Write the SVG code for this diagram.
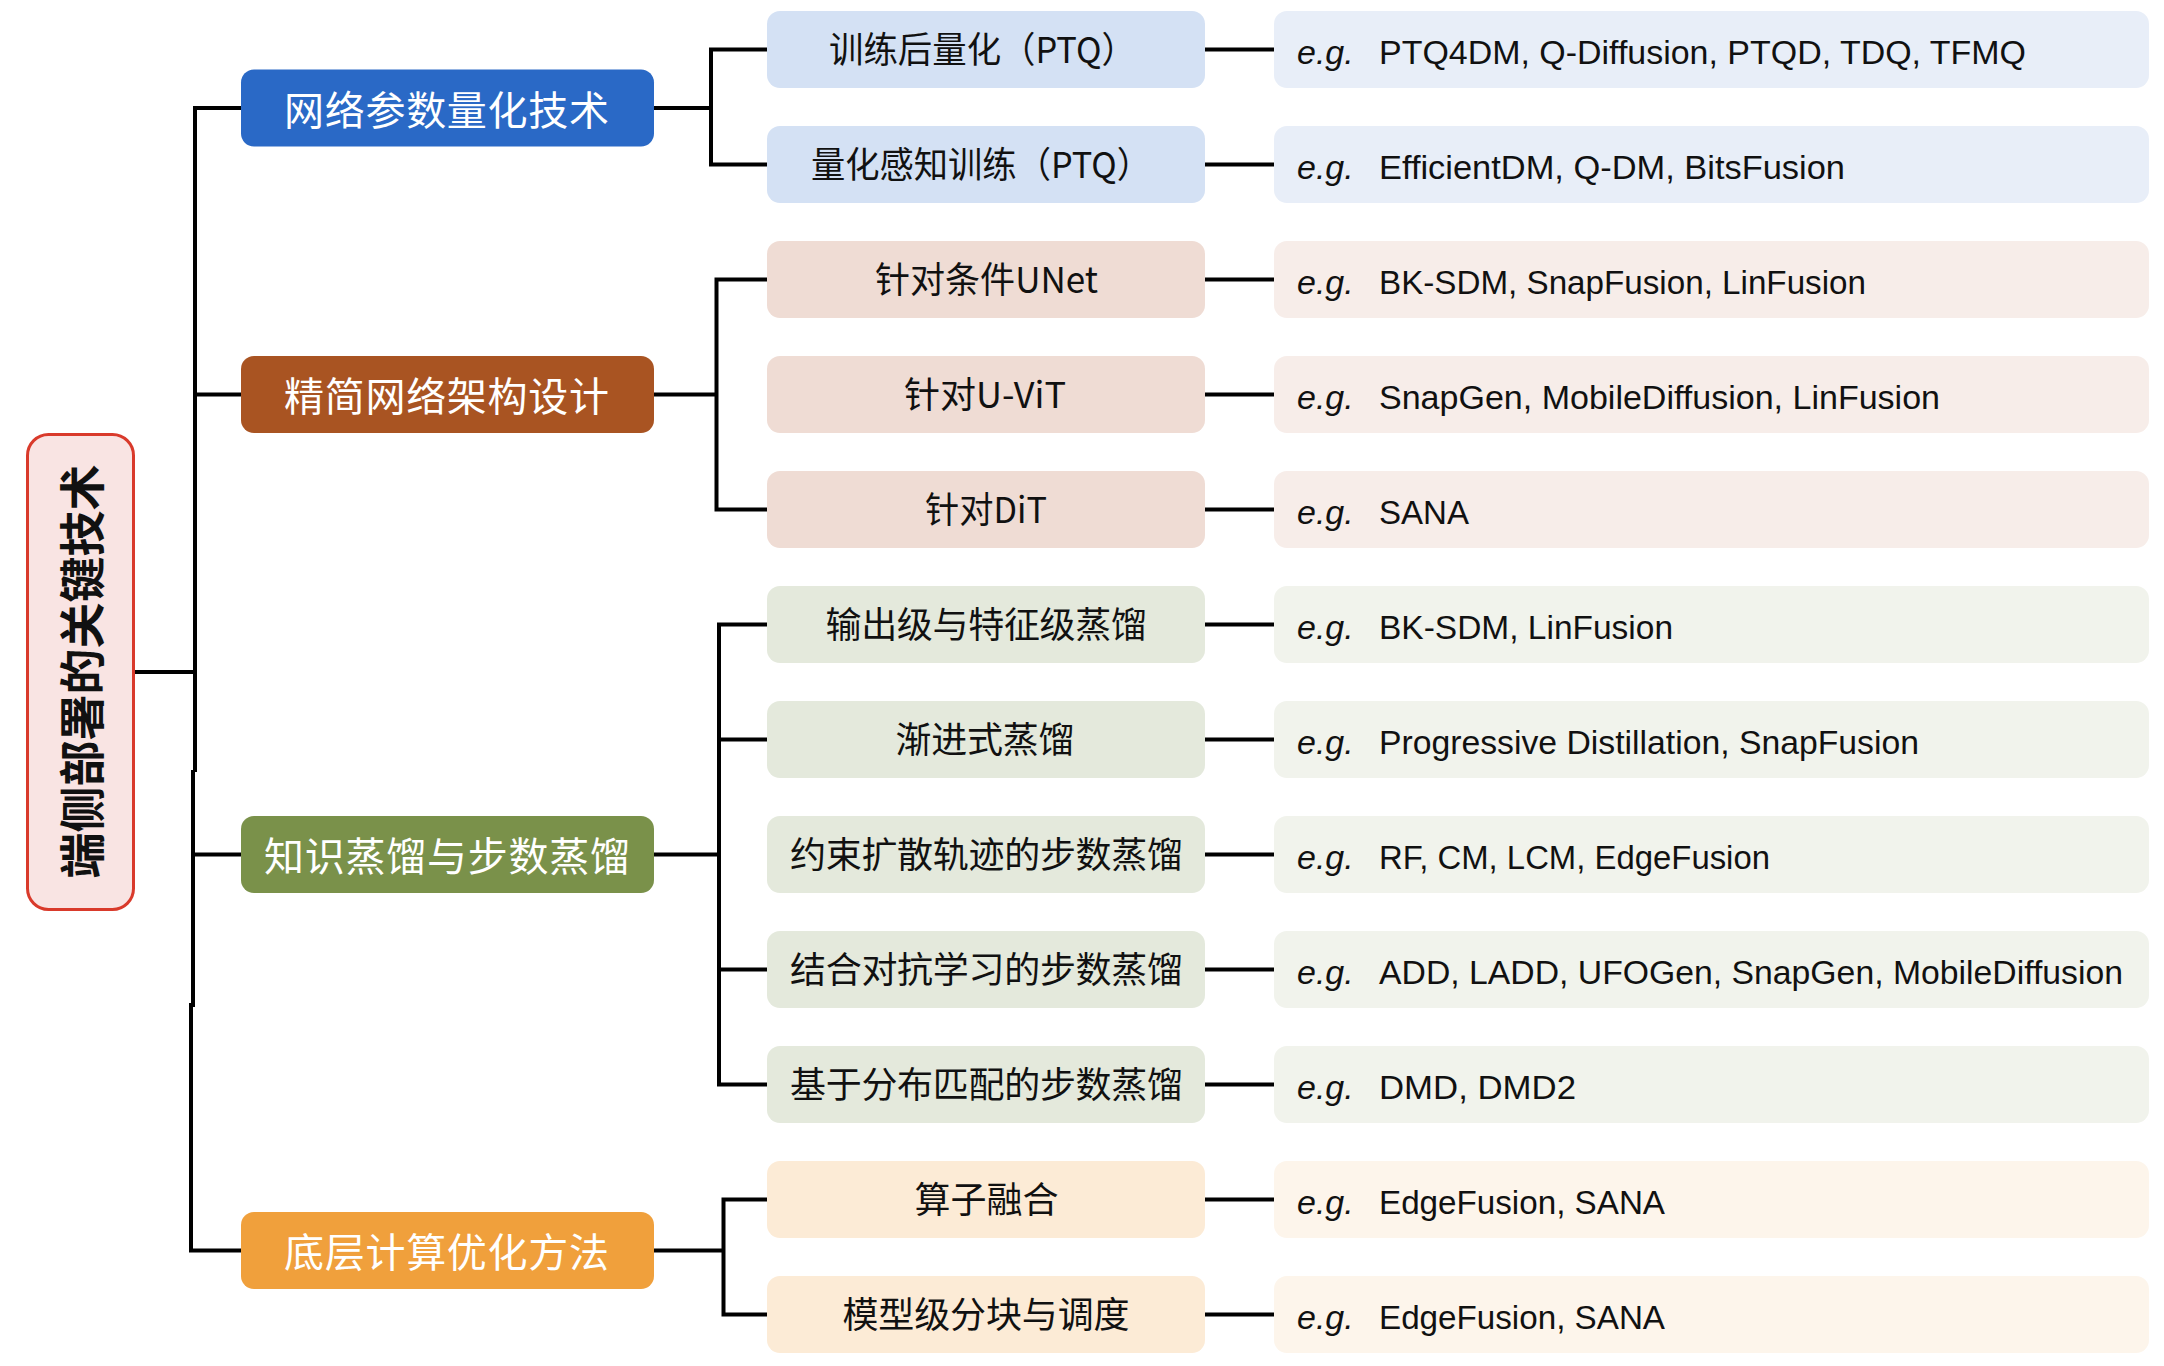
<svg xmlns="http://www.w3.org/2000/svg" width="2164" height="1366" viewBox="0 0 2164 1366">
<style>
.cjk{font-family:'Noto Sans CJK SC','Noto Sans',sans-serif}
.l1t{font-size:40px;fill:#ffffff}
.l2t{font-size:36px;fill:#111111}
.eg{font-family:'Liberation Sans',Arial,sans-serif;font-style:italic;font-size:34px;fill:#111111}
.l3t{font-family:'Liberation Sans',Arial,sans-serif;font-size:34px;fill:#111111}
.ln{fill:none;stroke:#000000;stroke-width:4}
.b1{fill:#2a69c6}.b2{fill:#d4e1f4}.b3{fill:#e8eef8}
.r1{fill:#a95422}.r2{fill:#efdcd4}.r3{fill:#f7ede9}
.g1{fill:#7a914a}.g2{fill:#e4e9dc}.g3{fill:#f1f3ec}
.o1{fill:#f0a03c}.o2{fill:#fcebd6}.o3{fill:#fdf5eb}
</style>
<rect width="2164" height="1366" fill="#ffffff"/>
<g id="connectors" class="ln">
<path d="M135 672 H195"/>
<path d="M241 108 H195 V772"/>
<path d="M195 394.5 H241"/>
<path d="M195 772 H193 V1005 H191 V1250.5 H241"/>
<path d="M193 854.5 H241"/>
<path d="M654 108 H711 M767 49.5 H711 V164.5 H767"/>
<path d="M654 394.5 H716.5 M767 279.5 H716.5 V509.5 H767"/>
<path d="M654 854.5 H719 M767 624.5 H719 V1084.5 H767 M719 739.5 H767 M719 969.5 H767"/>
<path d="M654 1250.5 H723.5 M767 1199.5 H723.5 V1314.5 H767"/>
<path d="M1205 49.5 H1274 M1205 164.5 H1274 M1205 279.5 H1274 M1205 394.5 H1274 M1205 509.5 H1274 M1205 624.5 H1274 M1205 739.5 H1274 M1205 854.5 H1274 M1205 969.5 H1274 M1205 1084.5 H1274 M1205 1199.5 H1274 M1205 1314.5 H1274"/>
</g>
<g id="root">
<rect x="27.5" y="434.5" width="106" height="475" rx="21" fill="#f9e4e3" stroke="#d93a2b" stroke-width="3"/>
<text class="cjk" transform="translate(98.5,671.5) rotate(-90)" text-anchor="middle" font-size="46" font-weight="bold" fill="#111111">端侧部署的关键技术</text>
</g>
<g id="n-quant">
<rect class="b1" x="241" y="69.5" width="413" height="77" rx="13"/>
<text class="cjk l1t" x="284" y="124.5" textLength="325" lengthAdjust="spacing">网络参数量化技术</text>
</g>
<g id="n-arch">
<rect class="r1" x="241" y="356" width="413" height="77" rx="13"/>
<text class="cjk l1t" x="284" y="411" textLength="325" lengthAdjust="spacing">精简网络架构设计</text>
</g>
<g id="n-distill">
<rect class="g1" x="241" y="816" width="413" height="77" rx="13"/>
<text class="cjk l1t" x="264" y="871" textLength="366" lengthAdjust="spacing">知识蒸馏与步数蒸馏</text>
</g>
<g id="n-compute">
<rect class="o1" x="241" y="1212" width="413" height="77" rx="13"/>
<text class="cjk l1t" x="284" y="1267" textLength="325" lengthAdjust="spacing">底层计算优化方法</text>
</g>
<g id="n-ptq">
<rect class="b2" x="767" y="11" width="438" height="77" rx="13"/>
<text class="cjk l2t" x="829" y="62.5" textLength="307" lengthAdjust="spacingAndGlyphs">训练后量化（PTQ）</text>
<rect class="b3" x="1274" y="11" width="875" height="77" rx="13"/>
<text class="eg" x="1297" y="63.5">e.g.</text>
<text class="l3t" x="1379" y="63.5" textLength="647" lengthAdjust="spacingAndGlyphs">PTQ4DM, Q-Diffusion, PTQD, TDQ, TFMQ</text>
</g>
<g id="n-qat">
<rect class="b2" x="767" y="126" width="438" height="77" rx="13"/>
<text class="cjk l2t" x="811" y="177.5" textLength="340" lengthAdjust="spacingAndGlyphs">量化感知训练（PTQ）</text>
<rect class="b3" x="1274" y="126" width="875" height="77" rx="13"/>
<text class="eg" x="1297" y="178.5">e.g.</text>
<text class="l3t" x="1379" y="178.5" textLength="466" lengthAdjust="spacingAndGlyphs">EfficientDM, Q-DM, BitsFusion</text>
</g>
<g id="n-unet">
<rect class="r2" x="767" y="241" width="438" height="77" rx="13"/>
<text class="cjk l2t" x="875" y="292.5" textLength="223" lengthAdjust="spacingAndGlyphs">针对条件UNet</text>
<rect class="r3" x="1274" y="241" width="875" height="77" rx="13"/>
<text class="eg" x="1297" y="293.5">e.g.</text>
<text class="l3t" x="1379" y="293.5" textLength="487" lengthAdjust="spacingAndGlyphs">BK-SDM, SnapFusion, LinFusion</text>
</g>
<g id="n-uvit">
<rect class="r2" x="767" y="356" width="438" height="77" rx="13"/>
<text class="cjk l2t" x="904" y="407.5" textLength="162" lengthAdjust="spacingAndGlyphs">针对U-ViT</text>
<rect class="r3" x="1274" y="356" width="875" height="77" rx="13"/>
<text class="eg" x="1297" y="408.5">e.g.</text>
<text class="l3t" x="1379" y="408.5" textLength="561" lengthAdjust="spacingAndGlyphs">SnapGen, MobileDiffusion, LinFusion</text>
</g>
<g id="n-dit">
<rect class="r2" x="767" y="471" width="438" height="77" rx="13"/>
<text class="cjk l2t" x="925" y="522.5" textLength="122" lengthAdjust="spacingAndGlyphs">针对DiT</text>
<rect class="r3" x="1274" y="471" width="875" height="77" rx="13"/>
<text class="eg" x="1297" y="523.5">e.g.</text>
<text class="l3t" x="1379" y="523.5" textLength="90" lengthAdjust="spacingAndGlyphs">SANA</text>
</g>
<g id="n-outfeat">
<rect class="g2" x="767" y="586" width="438" height="77" rx="13"/>
<text class="cjk l2t" x="825.5" y="637.5" textLength="321.5" lengthAdjust="spacing">输出级与特征级蒸馏</text>
<rect class="g3" x="1274" y="586" width="875" height="77" rx="13"/>
<text class="eg" x="1297" y="638.5">e.g.</text>
<text class="l3t" x="1379" y="638.5" textLength="294" lengthAdjust="spacingAndGlyphs">BK-SDM, LinFusion</text>
</g>
<g id="n-progressive">
<rect class="g2" x="767" y="701" width="438" height="77" rx="13"/>
<text class="cjk l2t" x="895.5" y="752.5" textLength="179" lengthAdjust="spacing">渐进式蒸馏</text>
<rect class="g3" x="1274" y="701" width="875" height="77" rx="13"/>
<text class="eg" x="1297" y="753.5">e.g.</text>
<text class="l3t" x="1379" y="753.5" textLength="540" lengthAdjust="spacingAndGlyphs">Progressive Distillation, SnapFusion</text>
</g>
<g id="n-trajectory">
<rect class="g2" x="767" y="816" width="438" height="77" rx="13"/>
<text class="cjk l2t" x="790" y="867.5" textLength="393" lengthAdjust="spacing">约束扩散轨迹的步数蒸馏</text>
<rect class="g3" x="1274" y="816" width="875" height="77" rx="13"/>
<text class="eg" x="1297" y="868.5">e.g.</text>
<text class="l3t" x="1379" y="868.5" textLength="391" lengthAdjust="spacingAndGlyphs">RF, CM, LCM, EdgeFusion</text>
</g>
<g id="n-adversarial">
<rect class="g2" x="767" y="931" width="438" height="77" rx="13"/>
<text class="cjk l2t" x="790" y="982.5" textLength="393" lengthAdjust="spacing">结合对抗学习的步数蒸馏</text>
<rect class="g3" x="1274" y="931" width="875" height="77" rx="13"/>
<text class="eg" x="1297" y="983.5">e.g.</text>
<text class="l3t" x="1379" y="983.5" textLength="744" lengthAdjust="spacingAndGlyphs">ADD, LADD, UFOGen, SnapGen, MobileDiffusion</text>
</g>
<g id="n-distmatch">
<rect class="g2" x="767" y="1046" width="438" height="77" rx="13"/>
<text class="cjk l2t" x="790" y="1097.5" textLength="393" lengthAdjust="spacing">基于分布匹配的步数蒸馏</text>
<rect class="g3" x="1274" y="1046" width="875" height="77" rx="13"/>
<text class="eg" x="1297" y="1098.5">e.g.</text>
<text class="l3t" x="1379" y="1098.5" textLength="197" lengthAdjust="spacingAndGlyphs">DMD, DMD2</text>
</g>
<g id="n-fusion">
<rect class="o2" x="767" y="1161" width="438" height="77" rx="13"/>
<text class="cjk l2t" x="914.5" y="1212.5" textLength="144" lengthAdjust="spacing">算子融合</text>
<rect class="o3" x="1274" y="1161" width="875" height="77" rx="13"/>
<text class="eg" x="1297" y="1213.5">e.g.</text>
<text class="l3t" x="1379" y="1213.5" textLength="286" lengthAdjust="spacingAndGlyphs">EdgeFusion, SANA</text>
</g>
<g id="n-partition">
<rect class="o2" x="767" y="1276" width="438" height="77" rx="13"/>
<text class="cjk l2t" x="842.5" y="1327.5" textLength="287" lengthAdjust="spacing">模型级分块与调度</text>
<rect class="o3" x="1274" y="1276" width="875" height="77" rx="13"/>
<text class="eg" x="1297" y="1328.5">e.g.</text>
<text class="l3t" x="1379" y="1328.5" textLength="286" lengthAdjust="spacingAndGlyphs">EdgeFusion, SANA</text>
</g>
</svg>
